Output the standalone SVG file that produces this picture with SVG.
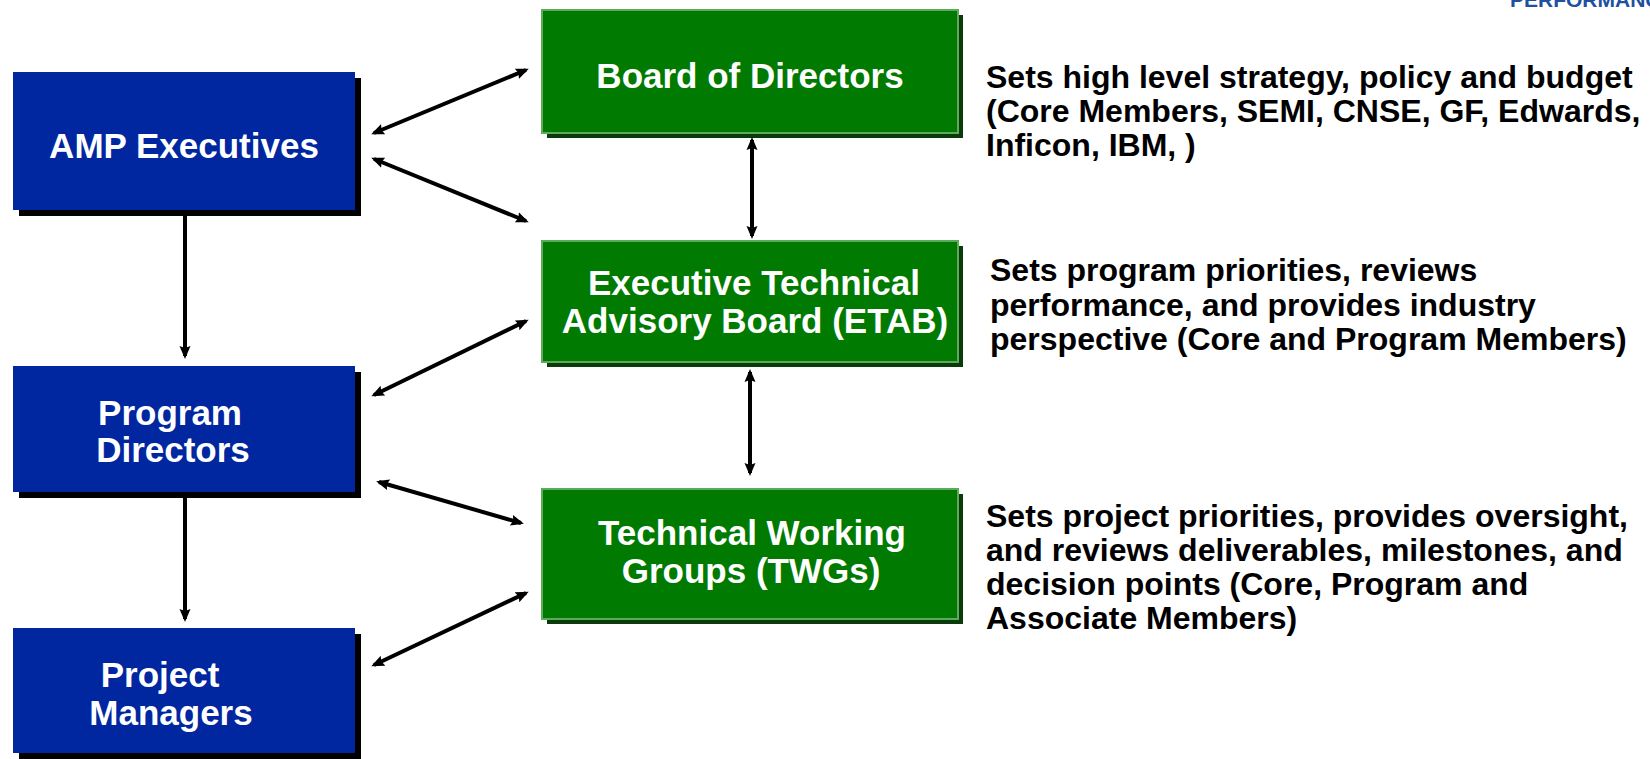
<svg xmlns="http://www.w3.org/2000/svg" width="1650" height="759" viewBox="0 0 1650 759">
<defs>
<style>
.blue{fill:#0026A0}
.bsh{fill:#000}
.green{fill:#007A00;stroke:#5DAA5D;stroke-width:2}
.gsh{fill:#0B3B0B}
.bt{font-family:"Liberation Sans",Arial,sans-serif;font-weight:bold;font-size:35px;fill:#fff;text-anchor:middle}
.rt{font-family:"Liberation Sans",Arial,sans-serif;font-weight:bold;font-size:32px;fill:#000}
.c{stroke:#000;stroke-width:4;fill:none;marker-start:url(#ah);marker-end:url(#ah)}
.c1{stroke:#000;stroke-width:4;fill:none;marker-end:url(#ah)}
</style>
<marker id="ah" markerUnits="userSpaceOnUse" markerWidth="14" markerHeight="12" refX="10" refY="6" orient="auto-start-reverse" viewBox="0 0 14 12">
<path d="M0,0.5 L13,6 L0,11.5 L2,6 z" fill="#000"/>
</marker>
</defs>
<rect width="1650" height="759" fill="#fff"/>
<text x="1510" y="7" font-family="Liberation Sans,Arial,sans-serif" font-weight="bold" font-size="21" fill="#2050A0">PERFORMANC</text>

<g id="amp-executives">
<rect class="bsh" x="19" y="78" width="342" height="138"/>
<rect class="blue" x="13" y="72" width="342" height="138"/>
<text class="bt" x="184" y="158">AMP Executives</text>
</g>
<g id="program-directors">
<rect class="bsh" x="19" y="372" width="342" height="126"/>
<rect class="blue" x="13" y="366" width="342" height="126"/>
<text class="bt" x="170" y="425">Program</text>
<text class="bt" x="173" y="462">Directors</text>
</g>
<g id="project-managers">
<rect class="bsh" x="19" y="634" width="342" height="125"/>
<rect class="blue" x="13" y="628" width="342" height="125"/>
<text class="bt" x="160" y="687">Project</text>
<text class="bt" x="171" y="725">Managers</text>
</g>
<g id="board-of-directors">
<rect class="gsh" x="547" y="15" width="416" height="123"/>
<rect class="green" x="542" y="10" width="416" height="123"/>
<text class="bt" x="750" y="88">Board of Directors</text>
</g>
<g id="etab">
<rect class="gsh" x="547" y="246" width="416" height="121"/>
<rect class="green" x="542" y="241" width="416" height="121"/>
<text class="bt" x="754" y="295">Executive Technical</text>
<text class="bt" x="755" y="333">Advisory Board (ETAB)</text>
</g>
<g id="twgs">
<rect class="gsh" x="547" y="494" width="416" height="130"/>
<rect class="green" x="542" y="489" width="416" height="130"/>
<text class="bt" x="752" y="545">Technical Working</text>
<text class="bt" x="751" y="583">Groups (TWGs)</text>
</g>

<g id="descriptions">
<text class="rt" x="986" y="88">Sets high level strategy, policy and budget</text>
<text class="rt" x="986" y="122">(Core Members, SEMI, CNSE, GF, Edwards,</text>
<text class="rt" x="986" y="156">Inficon, IBM, )</text>
<text class="rt" x="990" y="281">Sets program priorities, reviews</text>
<text class="rt" x="990" y="316">performance, and provides industry</text>
<text class="rt" x="990" y="350">perspective (Core and Program Members)</text>
<text class="rt" x="986" y="527">Sets project priorities, provides oversight,</text>
<text class="rt" x="986" y="561">and reviews deliverables, milestones, and</text>
<text class="rt" x="986" y="595">decision points (Core, Program and</text>
<text class="rt" x="986" y="629">Associate Members)</text>
</g>

<g id="connectors">
<line class="c" x1="374" y1="133" x2="526" y2="70"/>
<line class="c" x1="374" y1="159" x2="526" y2="221"/>
<line class="c1" x1="185" y1="216" x2="185" y2="356"/>
<line class="c" x1="752" y1="140" x2="752" y2="236"/>
<line class="c" x1="750" y1="372" x2="750" y2="473"/>
<line class="c" x1="374" y1="395" x2="526" y2="321"/>
<line class="c" x1="379" y1="482" x2="521" y2="523"/>
<line class="c1" x1="185" y1="498" x2="185" y2="619"/>
<line class="c" x1="374" y1="665" x2="526" y2="593"/>
</g>
</svg>
